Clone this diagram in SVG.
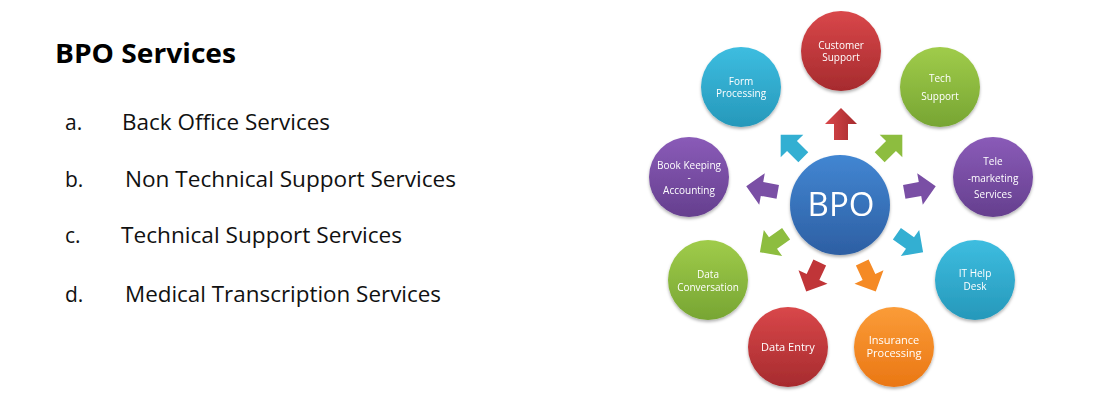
<svg xmlns="http://www.w3.org/2000/svg" xmlns:xlink="http://www.w3.org/1999/xlink" width="1100" height="400" viewBox="0 0 1100 400">
<style>
.title{font-family:"Open Sans","Noto Sans",sans-serif;font-weight:bold;font-size:26px;fill:#000}
.item{font-family:"Open Sans","Noto Sans",sans-serif;font-size:21px;fill:#111}
.lbl{font-family:"Open Sans","Noto Sans",sans-serif;font-size:10px;fill:#fff;text-anchor:middle}
.lbl11{font-family:"Open Sans","Noto Sans",sans-serif;font-size:11px;fill:#fff;text-anchor:middle}
.big{font-family:"Open Sans","Noto Sans",sans-serif;font-size:33px;fill:#fff;text-anchor:middle}
.node{filter:url(#sh)}
</style>
<defs>
<filter id="sh" x="-20%" y="-20%" width="140%" height="150%"><feDropShadow dx="0" dy="2" stdDeviation="1.5" flood-color="#000" flood-opacity="0.3"/></filter>
<linearGradient id="gRed" x1="0" y1="0" x2="0" y2="1"><stop offset="0" stop-color="#d9474a"/><stop offset="1" stop-color="#a62b2e"/></linearGradient>
<linearGradient id="gCyan" x1="0" y1="0" x2="0" y2="1"><stop offset="0" stop-color="#3dbde0"/><stop offset="1" stop-color="#2698ba"/></linearGradient>
<linearGradient id="gGreen" x1="0" y1="0" x2="0" y2="1"><stop offset="0" stop-color="#a0cc4a"/><stop offset="1" stop-color="#77a533"/></linearGradient>
<linearGradient id="gPurple" x1="0" y1="0" x2="0" y2="1"><stop offset="0" stop-color="#8a5bb8"/><stop offset="1" stop-color="#653f8e"/></linearGradient>
<linearGradient id="gBlue" x1="0" y1="0" x2="0" y2="1"><stop offset="0" stop-color="#4286d2"/><stop offset="1" stop-color="#2d5fa3"/></linearGradient>
<linearGradient id="gOrange" x1="0" y1="0" x2="0" y2="1"><stop offset="0" stop-color="#fb9c38"/><stop offset="1" stop-color="#ea7714"/></linearGradient>
<path id="arr" d="M-16,-7 L0,-7 L0,-16 L16,0 L0,16 L0,7 L-16,7 Z"/>
</defs>
<rect width="1100" height="400" fill="#fff"/>

<g id="list">
<text class="title" x="55" y="63" textLength="181" lengthAdjust="spacingAndGlyphs">BPO Services</text>
<text class="item" x="65" y="130">a.</text>
<text class="item" x="122" y="130" textLength="208" lengthAdjust="spacingAndGlyphs">Back Office Services</text>
<text class="item" x="65" y="187">b.</text>
<text class="item" x="125" y="187" textLength="331" lengthAdjust="spacingAndGlyphs">Non Technical Support Services</text>
<text class="item" x="65" y="243">c.</text>
<text class="item" x="121" y="243" textLength="281" lengthAdjust="spacingAndGlyphs">Technical Support Services</text>
<text class="item" x="65" y="302">d.</text>
<text class="item" x="125" y="302" textLength="316" lengthAdjust="spacingAndGlyphs">Medical Transcription Services</text>
</g>

<g id="connectors">
<use xlink:href="#arr" fill="url(#gRed)" transform="translate(841,124) rotate(-90)"/>
<use xlink:href="#arr" fill="#33afd2" transform="translate(792,146) rotate(-135)"/>
<use xlink:href="#arr" fill="#8dbd3f" transform="translate(891,146) rotate(-45)"/>
<use xlink:href="#arr" fill="#7a4fa5" transform="translate(762,189) rotate(190)"/>
<use xlink:href="#arr" fill="#7a4fa5" transform="translate(920,189) rotate(-10)"/>
<use xlink:href="#arr" fill="#8dbd3f" transform="translate(773,243) rotate(145)"/>
<use xlink:href="#arr" fill="#33afd2" transform="translate(910,243) rotate(35)"/>
<use xlink:href="#arr" fill="#c03538" transform="translate(813,277) rotate(115)"/>
<use xlink:href="#arr" fill="#f58a25" transform="translate(869,277) rotate(65)"/>
</g>

<g id="bpo" class="node"><circle cx="840" cy="205" r="50" fill="url(#gBlue)"/><text class="big" x="841" y="216">BPO</text></g>
<g id="customer-support" class="node"><circle cx="841" cy="51" r="40" fill="url(#gRed)"/><text class="lbl" x="841" y="49">Customer</text><text class="lbl" x="841" y="61">Support</text></g>
<g id="form-processing" class="node"><circle cx="741" cy="87" r="40" fill="url(#gCyan)"/><text class="lbl" x="741" y="85">Form</text><text class="lbl" x="741" y="97">Processing</text></g>
<g id="tech-support" class="node"><circle cx="940" cy="87" r="40" fill="url(#gGreen)"/><text class="lbl" x="940" y="82">Tech</text><text class="lbl" x="940" y="100">Support</text></g>
<g id="book-keeping" class="node"><circle cx="689" cy="177" r="40" fill="url(#gPurple)"/><text class="lbl" x="689" y="169" font-size="9.5">Book Keeping</text><text class="lbl" x="689" y="181">-</text><text class="lbl" x="689" y="194">Accounting</text></g>
<g id="telemarketing" class="node"><circle cx="993" cy="177" r="40" fill="url(#gPurple)"/><text class="lbl" x="993" y="165">Tele</text><text class="lbl" x="993" y="182">-marketing</text><text class="lbl" x="993" y="198">Services</text></g>
<g id="data-conversation" class="node"><circle cx="708" cy="280" r="40" fill="url(#gGreen)"/><text class="lbl" x="708" y="278">Data</text><text class="lbl" x="708" y="291">Conversation</text></g>
<g id="it-help-desk" class="node"><circle cx="975" cy="280" r="40" fill="url(#gCyan)"/><text class="lbl" x="975" y="277">IT Help</text><text class="lbl" x="975" y="290">Desk</text></g>
<g id="data-entry" class="node"><circle cx="788" cy="347" r="40" fill="url(#gRed)"/><text class="lbl11" x="788" y="351">Data Entry</text></g>
<g id="insurance-processing" class="node"><circle cx="894" cy="347" r="40" fill="url(#gOrange)"/><text class="lbl11" x="894" y="344">Insurance</text><text class="lbl11" x="894" y="357">Processing</text></g>
</svg>
